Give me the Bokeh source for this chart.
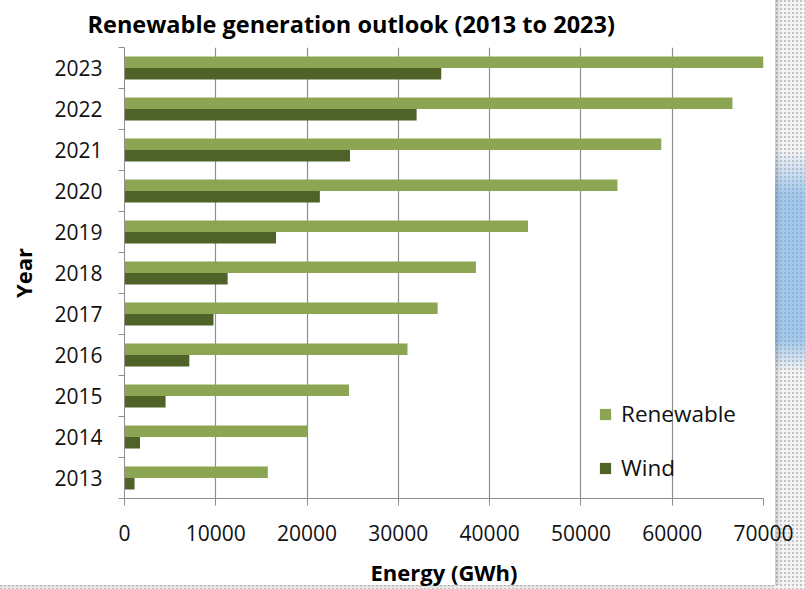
import numpy as np
from bokeh.plotting import figure
from bokeh.models import FixedTicker, Legend, LegendItem, Range1d, ColumnDataSource
from bokeh.embed import file_html
from bokeh.resources import INLINE

# Outlook data (GWh), one entry per year
years = ["2013", "2014", "2015", "2016", "2017", "2018", "2019", "2020", "2021", "2022", "2023"]
renewable = [15700, 20000, 24600, 31000, 34300, 38500, 44200, 54000, 58800, 66600, 70000]
wind = [1100, 1700, 4500, 7100, 9750, 11300, 16600, 21400, 24700, 32000, 34700]
x_ticks = [0, 10000, 20000, 30000, 40000, 50000, 60000, 70000]

RENEW_COLOR = "#8ba552"
WIND_COLOR = "#4f6228"
GRID_COLOR = "#8e8e8e"
FONT = "Open Sans"

idx = np.arange(len(years))
bar_h = 0.28
src = ColumnDataSource(dict(
    year=years,
    renewable=renewable,
    wind=wind,
    y_renew=idx + 0.5 + bar_h / 2,
    y_wind=idx + 0.5 - bar_h / 2,
))

p = figure(
    width=805, height=589,
    x_range=Range1d(0, 70000), y_range=Range1d(0, len(years)),
    output_backend="svg", toolbar_location=None,
    min_border_left=124, min_border_right=42, min_border_top=47, min_border_bottom=89,
    title="Renewable generation outlook (2013 to 2023)",
)
p.border_fill_color = None
p.background_fill_color = "white"
p.outline_line_color = None

p.title.align = "left"
p.title.vertical_align = "top"
p.title.offset = -37
p.title.standoff = 12
p.title.text_font = FONT
p.title.text_font_size = "23.5px"
p.title.text_font_style = "bold"
p.title.text_color = "#000000"

# page backdrop: white chart panel over a dotted strip with a pale blue band
p.styles = {
    "background-color": "#f4f4f4",
    "background-image": ", ".join([
        "linear-gradient(#ffffff, #ffffff)",
        "linear-gradient(to right, rgba(0,0,0,0.16), rgba(0,0,0,0))",
        "linear-gradient(to bottom, rgba(0,0,0,0.12), rgba(0,0,0,0))",
        "linear-gradient(to bottom, rgba(110,170,225,0) 150px, rgba(110,170,225,0.6) 195px, "
        "rgba(110,170,225,0.6) 340px, rgba(110,170,225,0) 372px)",
        "radial-gradient(circle at 1px 1px, #c4c4c4 0.9px, rgba(0,0,0,0) 1.3px)",
    ]),
    "background-position": "0 0, 775px 0, 0 585px, 0 0, 0 0",
    "background-size": "775px 585px, 6px 585px, 775px 4px, 805px 589px, 4px 4px",
    "background-repeat": "no-repeat, no-repeat, no-repeat, no-repeat, repeat",
}

r_renew = p.hbar(y="y_renew", right="renewable", left=0, height=bar_h, source=src,
                 fill_color=RENEW_COLOR, line_color=None)
r_wind = p.hbar(y="y_wind", right="wind", left=0, height=bar_h, source=src,
                fill_color=WIND_COLOR, line_color=None)

# x axis
xa = p.xaxis[0]
xa.ticker = FixedTicker(ticks=x_ticks)
xa.axis_line_color = GRID_COLOR
xa.major_tick_line_color = GRID_COLOR
xa.major_tick_out = 7
xa.major_tick_in = 0
xa.minor_tick_line_color = None
xa.major_label_text_font = FONT
xa.major_label_text_font_size = "21px"
xa.major_label_text_color = "#111111"
xa.major_label_standoff = 19
xa.axis_label = "Energy (GWh)"
xa.axis_label_text_font = FONT
xa.axis_label_text_font_size = "22px"
xa.axis_label_text_font_style = "bold"
xa.axis_label_text_color = "#000000"
xa.axis_label_standoff = 13

# y axis: labels at category centres, ticks on category boundaries
ya = p.yaxis[0]
ya.ticker = FixedTicker(ticks=list(idx + 0.5), minor_ticks=list(range(len(years) + 1)))
ya.major_label_overrides = {float(i + 0.5): y for i, y in enumerate(years)}
ya.axis_line_color = GRID_COLOR
ya.major_tick_out = 0
ya.major_tick_in = 0
ya.minor_tick_out = 6
ya.minor_tick_in = 0
ya.minor_tick_line_color = GRID_COLOR
ya.major_label_text_font = FONT
ya.major_label_text_font_size = "21px"
ya.major_label_text_color = "#111111"
ya.major_label_standoff = 16
ya.axis_label = "Year"
ya.axis_label_text_font = FONT
ya.axis_label_text_font_size = "22px"
ya.axis_label_text_font_style = "bold"
ya.axis_label_text_color = "#000000"
ya.axis_label_standoff = 13

p.xgrid.ticker = FixedTicker(ticks=x_ticks)
p.xgrid.grid_line_color = GRID_COLOR
p.xgrid.grid_line_width = 1.2
p.ygrid.grid_line_color = None

legend = Legend(
    items=[LegendItem(label="Renewable", renderers=[r_renew]),
           LegendItem(label="Wind", renderers=[r_wind])],
    location=(474, 15),
    glyph_width=14, glyph_height=14, label_standoff=9, spacing=23,
    padding=0, margin=0, border_line_color=None, background_fill_alpha=0,
    label_text_font=FONT, label_text_font_size="22.5px", label_text_color="#111111",
)
p.add_layout(legend)

open("out.html", "w").write(file_html(p, INLINE))
